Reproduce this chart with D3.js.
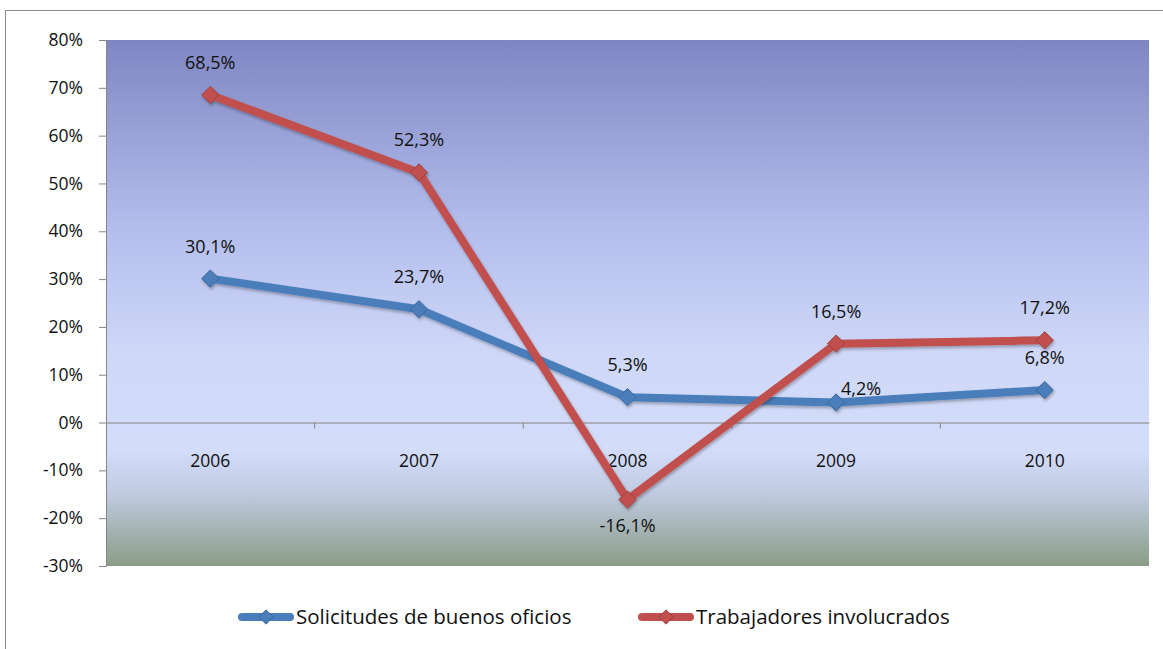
<!DOCTYPE html>
<html>
<head>
<meta charset="utf-8">
<script src="https://cdn.jsdelivr.net/npm/d3@7"></script>
<style>
  body { margin: 0; background: #fff; }
  svg text { font-family: "Open Sans", "Noto Sans", sans-serif; }
</style>
</head>
<body>
<div id="chart"></div>
<script>
// data
var years = ["2006", "2007", "2008", "2009", "2010"];
var solicitudes = [30.1, 23.7, 5.3, 4.2, 6.8];
var trabajadores = [68.5, 52.3, -16.1, 16.5, 17.2];
var yTicks = [-30, -20, -10, 0, 10, 20, 30, 40, 50, 60, 70, 80];
var seriesNames = ["Solicitudes de buenos oficios", "Trabajadores involucrados"];

var width = 1163, height = 649;
var plotLeft = 106, plotRight = 1149, plotTop = 40, plotBottom = 566;

var svg = d3.select("#chart").append("svg")
    .attr("width", width)
    .attr("height", height);

var defs = svg.append("defs");
var grad = defs.append("linearGradient")
    .attr("id", "bg").attr("x1", 0).attr("y1", 0).attr("x2", 0).attr("y2", 1);
grad.append("stop").attr("offset", "0%").attr("stop-color", "#7f86c2");
grad.append("stop").attr("offset", "35%").attr("stop-color", "#b3bdec");
grad.append("stop").attr("offset", "60%").attr("stop-color", "#cfd8f8");
grad.append("stop").attr("offset", "78%").attr("stop-color", "#d3dcf9");
grad.append("stop").attr("offset", "86%").attr("stop-color", "#c1cbe2");
grad.append("stop").attr("offset", "100%").attr("stop-color", "#8a9c86");

var shadow = defs.append("filter").attr("id", "shadow")
    .attr("x", "-20%").attr("y", "-20%").attr("width", "140%").attr("height", "140%");
shadow.append("feDropShadow")
    .attr("dx", 1).attr("dy", 2).attr("stdDeviation", 1.5)
    .attr("flood-color", "#000").attr("flood-opacity", 0.3);

// outer frame
svg.append("rect")
    .attr("x", 5.5).attr("y", 10.5)
    .attr("width", 1170).attr("height", 660)
    .attr("fill", "none")
    .attr("stroke", "#8c8c8c");

var x = d3.scaleBand().domain(years).range([plotLeft, plotRight]);
var y = d3.scaleLinear().domain([-30, 80]).range([plotBottom, plotTop]);
function cx(d) { return x(d) + x.bandwidth() / 2; }

svg.append("rect")
    .attr("x", plotLeft).attr("y", plotTop)
    .attr("width", plotRight - plotLeft).attr("height", plotBottom - plotTop)
    .attr("fill", "url(#bg)");

// y axis
var yAxis = svg.append("g")
    .attr("transform", "translate(" + plotLeft + ",0)")
    .call(d3.axisLeft(y).tickValues(yTicks).tickSize(7).tickPadding(16)
        .tickFormat(function(d) { return d + "%"; }));
yAxis.select(".domain").attr("stroke", "#868686");
yAxis.selectAll(".tick line").attr("stroke", "#868686");
yAxis.selectAll(".tick text").attr("fill", "#111").style("font-size", "17.5px");

// zero line with category ticks
var xAxis = svg.append("g")
    .attr("transform", "translate(0," + y(0) + ")")
    .call(d3.axisBottom(x).tickSize(0).tickPadding(32));
xAxis.select(".domain").attr("stroke", "#868686");
xAxis.selectAll(".tick text").attr("fill", "#111").style("font-size", "17.5px");
xAxis.selectAll(".sep").data(years.slice(1))
  .enter().append("line")
    .attr("x1", function(d) { return x(d); })
    .attr("x2", function(d) { return x(d); })
    .attr("y1", 0).attr("y2", 6)
    .attr("stroke", "#868686");

var series = [
  { name: seriesNames[0], values: solicitudes, color: "#4a7ebb", labelPos: ["above", "above", "above", "right", "above"] },
  { name: seriesNames[1], values: trabajadores, color: "#c0504d", labelPos: ["above", "above", "below", "above", "above"] }
];

var line = d3.line()
    .x(function(d, i) { return cx(years[i]); })
    .y(function(d) { return y(d); });

var diamond = d3.symbol().type(d3.symbolDiamond2 || d3.symbolDiamond).size(190);

series.forEach(function(s) {
  var g = svg.append("g").attr("filter", "url(#shadow)");
  g.append("path")
      .datum(s.values)
      .attr("d", line)
      .attr("fill", "none")
      .attr("stroke", s.color)
      .attr("stroke-width", 8)
      .attr("stroke-linejoin", "round");
  g.selectAll(".pt").data(s.values).enter().append("path")
      .attr("d", diamond)
      .attr("transform", function(d, i) { return "translate(" + cx(years[i]) + "," + y(d) + ")"; })
      .attr("fill", s.color)
      .attr("stroke", d3.color(s.color).darker(0.6))
      .attr("stroke-width", 1);
});

series.forEach(function(s) {
  svg.selectAll(null).data(s.values).enter().append("text")
      .attr("x", function(d, i) {
        return cx(years[i]) + (s.labelPos[i] === "right" ? 25 : 0);
      })
      .attr("y", function(d, i) {
        var p = s.labelPos[i];
        if (p === "below") return y(d) + 32;
        if (p === "right") return y(d) - 7;
        return y(d) - 26;
      })
      .attr("text-anchor", "middle")
      .attr("fill", "#111")
      .style("font-size", "18px")
      .text(function(d) { return d.toFixed(1).replace(".", ",") + "%"; });
});

// legend
var legend = svg.append("g").attr("transform", "translate(0,617)");
var legendX = [240, 640];
series.forEach(function(s, i) {
  var lg = legend.append("g").attr("transform", "translate(" + legendX[i] + ",0)");
  lg.append("line")
      .attr("x1", 2).attr("x2", 50)
      .attr("stroke", s.color).attr("stroke-width", 8)
      .attr("stroke-linecap", "round");
  lg.append("path")
      .attr("d", d3.symbol().type(d3.symbolDiamond2 || d3.symbolDiamond).size(130))
      .attr("transform", "translate(26,0)")
      .attr("fill", s.color)
      .attr("stroke", d3.color(s.color).darker(0.6));
  lg.append("text")
      .attr("x", 56).attr("y", 7)
      .attr("fill", "#111")
      .style("font-size", "20.5px")
      .text(s.name);
});
</script>
</body>
</html>
